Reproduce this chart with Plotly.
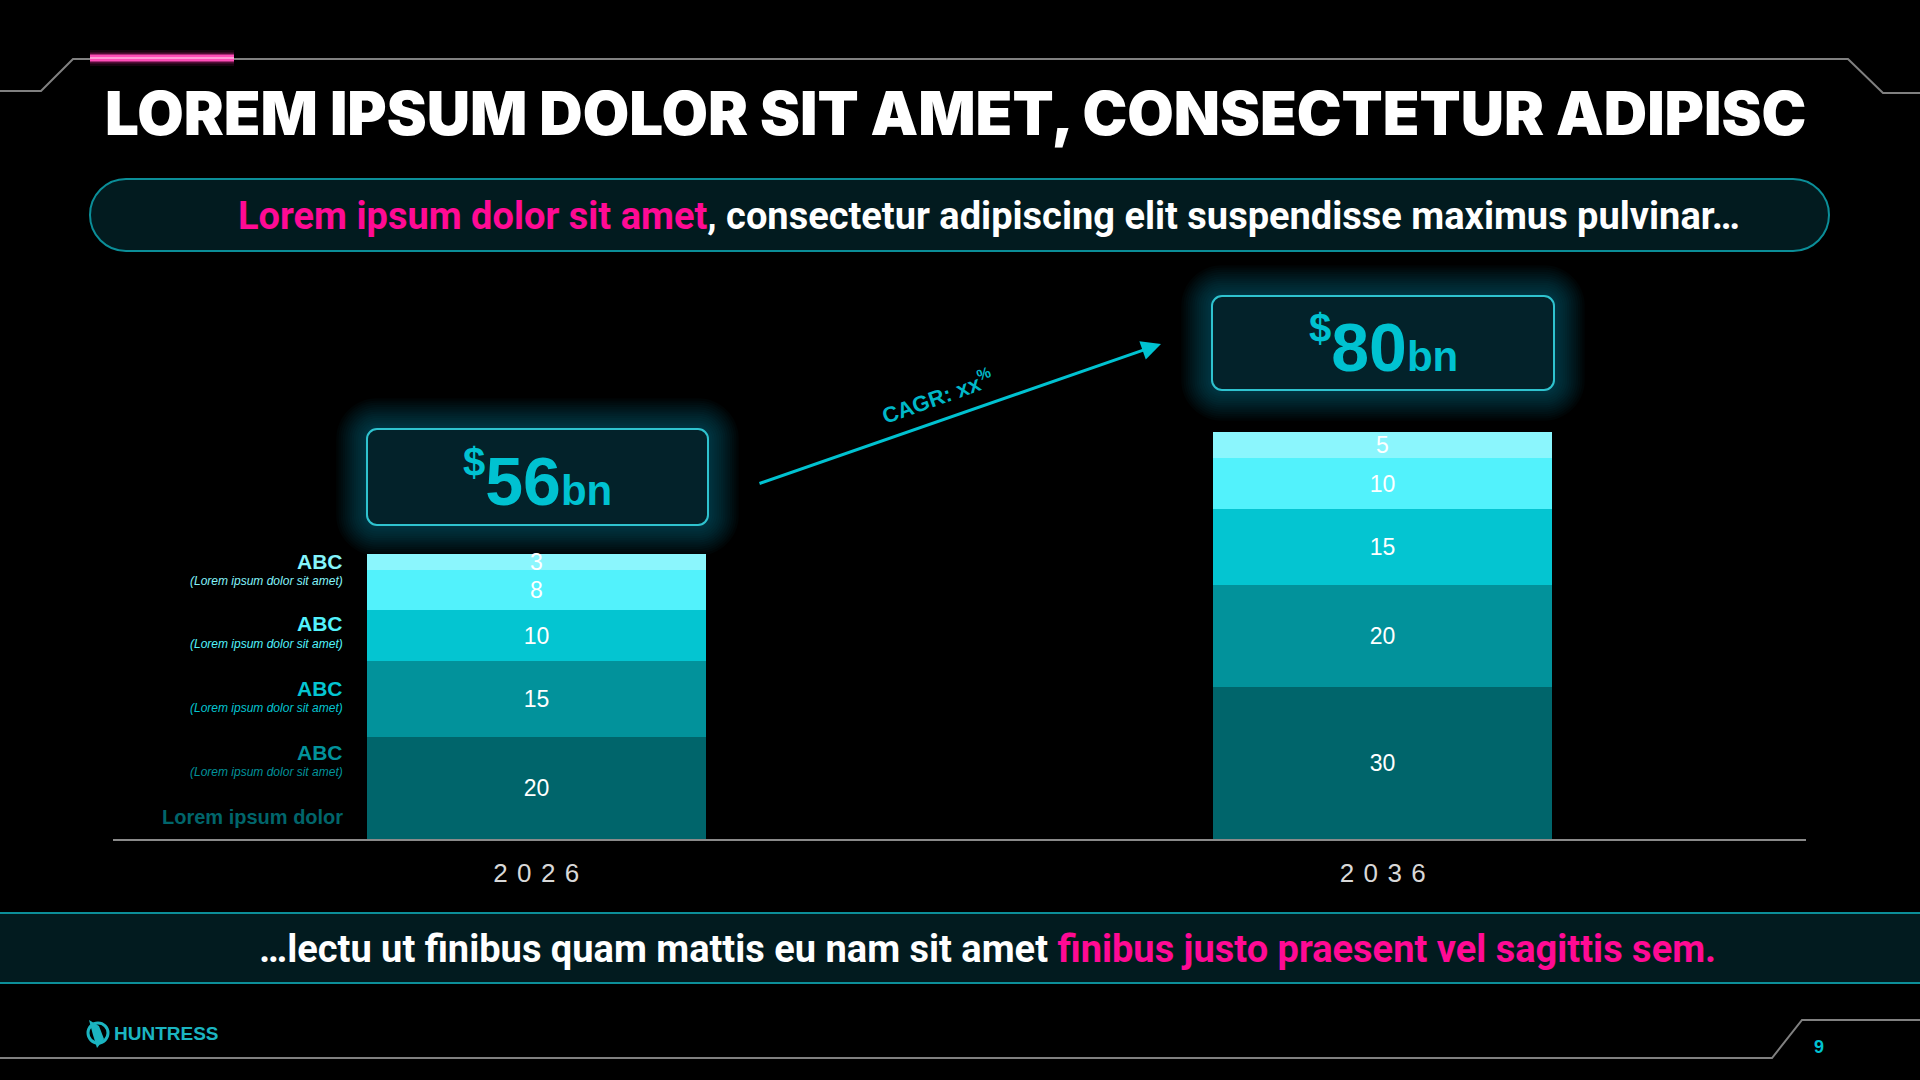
import plotly.graph_objects as go

W, H = 1920, 1080

# ---------------- data ----------------
years = ["2026", "2036"]
year_ticks = ["2 \u200a0 \u200a2 \u200a6", "2 \u200a0 \u200a3 \u200a6"]
seg_bottom = [20, 30]
seg_second = [15, 20]
seg_third = [10, 15]
seg_fourth = [8, 10]
seg_top = [3, 5]
seg_colors = ["#00656b", "#02929b", "#04c5d1", "#52f2fc", "#8bf6fd"]  # bottom -> top
legend_names = ["ABC", "ABC", "ABC", "ABC", "Lorem ipsum dolor"]        # top -> bottom
legend_notes = ["(Lorem ipsum dolor sit amet)"] * 4 + [""]
legend_colors = ["#84f4fb", "#52f2fc", "#04c5d1", "#02929b", "#00656b"]
title_text = "LOREM IPSUM DOLOR SIT AMET, CONSECTETUR ADIPISC"
subtitle_hl = "Lorem ipsum dolor sit amet"
subtitle_rest = ", consectetur adipiscing elit suspendisse maximus pulvinar\u2026"
footer_rest = "\u2026lectu ut finibus quam mattis eu nam sit amet "
footer_hl = "finibus justo praesent vel sagittis sem."
cagr_label = "CAGR: xx"
page_number = "9"
brand = "HUNTRESS"

TEAL = "#00c2d1"
PINK = "#ff0a94"
BODY = "Roboto, Liberation Sans, sans-serif"
SANS = "Liberation Sans, Arial, sans-serif"


def X(px):
    return px / W


def Y(py):
    return 1 - py / H


def rrect(x0, y0, x1, y1, r):
    k = 0.5523 * r
    p = [
        f"M {X(x0 + r)},{Y(y0)}",
        f"L {X(x1 - r)},{Y(y0)}",
        f"C {X(x1 - r + k)},{Y(y0)} {X(x1)},{Y(y0 + r - k)} {X(x1)},{Y(y0 + r)}",
        f"L {X(x1)},{Y(y1 - r)}",
        f"C {X(x1)},{Y(y1 - r + k)} {X(x1 - r + k)},{Y(y1)} {X(x1 - r)},{Y(y1)}",
        f"L {X(x0 + r)},{Y(y1)}",
        f"C {X(x0 + r - k)},{Y(y1)} {X(x0)},{Y(y1 - r + k)} {X(x0)},{Y(y1 - r)}",
        f"L {X(x0)},{Y(y0 + r)}",
        f"C {X(x0)},{Y(y0 + r - k)} {X(x0 + r - k)},{Y(y0)} {X(x0 + r)},{Y(y0)}",
        "Z",
    ]
    return " ".join(p)


def polyline(pts):
    return "M " + " L ".join(f"{X(a)},{Y(b)}" for a, b in pts)


fig = go.Figure()

series = [seg_bottom, seg_second, seg_third, seg_fourth, seg_top]
for vals, col in zip(series, seg_colors):
    fig.add_trace(go.Bar(
        x=years, y=vals, width=0.4,
        marker=dict(color=col, line=dict(width=0)),
        text=[str(v) for v in vals], textposition="inside", textangle=0,
        insidetextanchor="middle", constraintext="none",
        textfont=dict(color="white", size=23, family=SANS),
        hoverinfo="skip", showlegend=False,
    ))

totals = [sum(s[i] for s in series) for i in range(len(years))]

shapes = []
# decorative frame lines
shapes.append(dict(type="path", xref="paper", yref="paper",
                   path=polyline([(0, 91), (41, 91), (73, 59), (1848, 59), (1883, 93), (1920, 93)]),
                   line=dict(color="#808080", width=2)))
shapes.append(dict(type="path", xref="paper", yref="paper",
                   path=polyline([(0, 1058), (1772, 1058), (1802, 1020), (1920, 1020)]),
                   line=dict(color="#808080", width=2)))
# pink glowing accent
for w, c in [(16, "rgba(255,40,170,0.10)"), (11, "rgba(255,40,170,0.25)"),
             (7, "#ff4db8"), (2, "#ff9ad6")]:
    shapes.append(dict(type="line", xref="paper", yref="paper",
                       x0=X(90), x1=X(234), y0=Y(58), y1=Y(58),
                       line=dict(color=c, width=w)))

# subtitle pill
shapes.append(dict(type="path", xref="paper", yref="paper", layer="below",
                   path=rrect(90, 179, 1829, 251, 36),
                   fillcolor="#021b1f", line=dict(color="#0b8e98", width=2)))

# bottom banner
shapes.append(dict(type="rect", xref="paper", yref="paper", layer="below",
                   x0=0, x1=1, y0=Y(983), y1=Y(913),
                   fillcolor="#021b1f", line=dict(width=0)))
for yy in (913, 983):
    shapes.append(dict(type="line", xref="paper", yref="paper",
                       x0=0, x1=1, y0=Y(yy), y1=Y(yy),
                       line=dict(color="#0c8f99", width=2)))

# value boxes with glow
boxes = [(367, 429, 708, 525), (1212, 296, 1554, 390)]
for (x0, y0, x1, y1) in boxes:
    for i in range(14, 0, -1):
        g = i * 2.2
        shapes.append(dict(type="path", xref="paper", yref="paper", layer="below",
                           path=rrect(x0 - g, y0 - g, x1 + g, y1 + g, 10 + g),
                           fillcolor="rgba(0,194,209,0.026)", line=dict(width=0)))
    shapes.append(dict(type="path", xref="paper", yref="paper", layer="below",
                       path=rrect(x0, y0, x1, y1, 10),
                       fillcolor="#03222a", line=dict(color="#2fc3cf", width=2)))

# logo icon (simple emblem)
shapes.append(dict(type="circle", xref="paper", yref="paper",
                   x0=X(88), x1=X(108), y0=Y(1043), y1=Y(1023),
                   line=dict(color="#1bb5c1", width=3)))
shapes.append(dict(type="path", xref="paper", yref="paper",
                   path=polyline([(89, 1020), (99, 1026), (104, 1039), (97, 1048), (93, 1035)]) + " Z",
                   fillcolor="#1bb5c1", line=dict(width=0)))

annotations = []
annotations.append(dict(xref="paper", yref="paper", x=X(955), y=Y(113),
                        text=title_text, showarrow=False, xanchor="center", yanchor="middle",
                        font=dict(family="Inter, DejaVu Sans", size=60, color="white", weight=900)))
annotations.append(dict(xref="paper", yref="paper", x=X(989), y=Y(216),
                        text=f"<span style='color:{PINK}'>{subtitle_hl}</span>{subtitle_rest}",
                        showarrow=False, xanchor="center", yanchor="middle",
                        font=dict(family=BODY, size=38, color="white", weight="bold")))
annotations.append(dict(xref="paper", yref="paper", x=X(988), y=Y(949),
                        text=f"{footer_rest}<span style='color:{PINK}'>{footer_hl}</span>",
                        showarrow=False, xanchor="center", yanchor="middle",
                        font=dict(family=BODY, size=38, color="white", weight="bold")))

for (x0, y0, x1, y1), tot in zip(boxes, totals):
    annotations.append(dict(xref="paper", yref="paper", x=X((x0 + x1) / 2), y=Y((y0 + y1) / 2 + 2),
                            text=f"<sup><span style='font-size:40px'>$</span></sup>{tot}"
                                 f"<span style='font-size:42px'>bn</span>",
                            showarrow=False, xanchor="center", yanchor="middle",
                            font=dict(family=SANS, size=68, color=TEAL, weight="bold")))

# CAGR arrow
annotations.append(dict(xref="paper", yref="paper", x=X(1161), y=Y(344),
                        ax=758 - 1161, ay=484 - 344, axref="pixel", ayref="pixel",
                        text="", showarrow=True, arrowhead=2, arrowsize=1.3,
                        arrowwidth=3, arrowcolor=TEAL))
annotations.append(dict(xref="paper", yref="paper", x=X(937), y=Y(396),
                        text=f"{cagr_label}<sup>%</sup>", textangle=-19.5, showarrow=False,
                        xanchor="center", yanchor="middle",
                        font=dict(family=SANS, size=22, color="#00b8c8", weight="bold")))

# left legend labels
label_y = [561, 624, 688, 752, 817]
for name, note, col, yy in zip(legend_names, legend_notes, legend_colors, label_y):
    annotations.append(dict(xref="paper", yref="paper", x=X(345), y=Y(yy),
                            text=name, showarrow=False, xanchor="right", yanchor="middle",
                            font=dict(family=SANS, size=21 if note else 20, color=col, weight="bold")))
    if note:
        annotations.append(dict(xref="paper", yref="paper", x=X(345), y=Y(yy + 20),
                                text=f"<i>{note}</i>", showarrow=False, xanchor="right",
                                yanchor="middle",
                                font=dict(family=SANS, size=12, color=col)))

annotations.append(dict(xref="paper", yref="paper", x=X(112), y=Y(1033),
                        text=brand, showarrow=False, xanchor="left", yanchor="middle",
                        font=dict(family=SANS, size=19, color="#1bb5c1", weight="bold")))
annotations.append(dict(xref="paper", yref="paper", x=X(1819), y=Y(1047),
                        text=page_number, showarrow=False, xanchor="center", yanchor="middle",
                        font=dict(family=SANS, size=18, color=TEAL, weight="bold")))

fig.update_layout(
    width=W, height=H, autosize=False,
    margin=dict(l=0, r=0, t=0, b=0),
    paper_bgcolor="#000000", plot_bgcolor="rgba(0,0,0,0)",
    barmode="stack", bargap=0,
    shapes=shapes, annotations=annotations,
    xaxis=dict(type="category", domain=[X(113), X(1806)], range=[-0.5, 1.5],
               showline=True, linecolor="#8a8a8a", linewidth=2,
               tickvals=years, ticktext=year_ticks, ticks="",
               ticklabelstandoff=10,
               tickfont=dict(family=SANS, size=26, color="#d8d8d8"),
               showgrid=False, zeroline=False, fixedrange=True),
    yaxis=dict(domain=[Y(839), Y(280)], range=[0, 110], visible=False,
               showgrid=False, zeroline=False, fixedrange=True),
    showlegend=False,
)

fig.write_html(
    "out.html",
    config={"displayModeBar": False},
    post_script="document.body.style.margin='0';document.body.style.background='#000';"
                "document.body.style.overflow='hidden';",
)
